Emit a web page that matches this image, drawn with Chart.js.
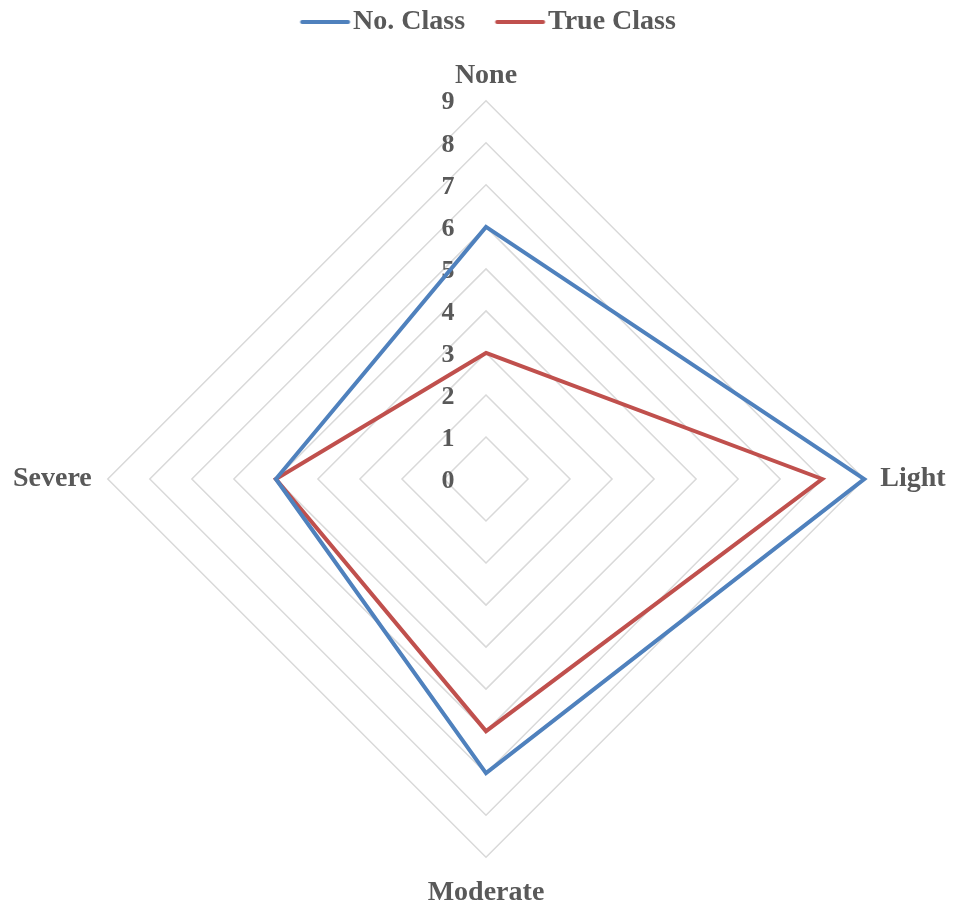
<!DOCTYPE html>
<html>
<head>
<meta charset="utf-8">
<script src="https://cdn.jsdelivr.net/npm/chart.js@4/dist/chart.umd.min.js"></script>
<style>
  html, body { margin: 0; padding: 0; background: #ffffff; overflow: hidden; }
  #wrap { width: 953px; height: 925px; }
</style>
</head>
<body>
<div id="wrap"><canvas id="radarChart"></canvas></div>
<script>
// categories around the radar, clockwise from the top
const categories = ["None", "Light", "Moderate", "Severe"];
const noClassValues = [6, 9, 7, 5];
const trueClassValues = [3, 8, 6, 5];
const tickValues = [0, 1, 2, 3, 4, 5, 6, 7, 8, 9];

const textColor = "#595959";
const serif = "'Liberation Serif', 'Times New Roman', serif";
// gap between each category label and the outer ring (top, right, bottom, left)
const labelGaps = [8, 16, 19, 16];

// legend swatch: a short line pushed to the right so it sits close to its text
function lineSwatch(color) {
  const c = document.createElement("canvas");
  c.width = 80;
  c.height = 8;
  const g = c.getContext("2d");
  g.strokeStyle = color;
  g.lineWidth = 4;
  g.lineCap = "round";
  g.beginPath();
  g.moveTo(30.5, 4);
  g.lineTo(76.5, 4);
  g.stroke();
  return c;
}

// tick numbers sit a little to the left of the vertical axis
const leftTicks = {
  id: "leftTicks",
  beforeDatasetsDraw(chart) {
    const scale = chart.scales.r;
    const ctx = chart.ctx;
    ctx.save();
    ctx.font = "bold 26px " + serif;
    ctx.fillStyle = textColor;
    ctx.textAlign = "center";
    ctx.textBaseline = "middle";
    tickValues.forEach(function (v) {
      const y = scale.yCenter - scale.getDistanceFromCenterForValue(v);
      ctx.fillText(String(v), scale.xCenter - 38, y + 2);
    });
    ctx.restore();
  }
};

let ctx = document.getElementById("radarChart").getContext("2d");
let radarChart = new Chart(ctx, {
  type: "radar",
  data: {
    labels: categories,
    datasets: [
      {
        label: "No. Class",
        data: noClassValues,
        borderColor: "#4f81bd",
        backgroundColor: "rgba(0,0,0,0)",
        borderWidth: 4,
        borderJoinStyle: "miter",
        pointStyle: lineSwatch("#4f81bd"),
        pointRadius: 0,
        pointHoverRadius: 0,
        fill: false,
      },
      {
        label: "True Class",
        data: trueClassValues,
        borderColor: "#c0504d",
        backgroundColor: "rgba(0,0,0,0)",
        borderWidth: 4,
        borderJoinStyle: "miter",
        pointStyle: lineSwatch("#c0504d"),
        pointRadius: 0,
        pointHoverRadius: 0,
        fill: false,
      },
    ],
  },
  options: {
    responsive: true,
    maintainAspectRatio: false,
    animation: false,
    layout: { padding: { top: -6, bottom: 0, left: 7, right: 0 } },
    plugins: {
      tooltip: { enabled: false },
      legend: {
        position: "top",
        labels: {
          usePointStyle: true,
          pointStyleWidth: 55,
          padding: 14,
          color: textColor,
          font: { family: serif, size: 28, weight: "bold" },
        },
      },
    },
    scales: {
      r: {
        min: 0,
        max: 9,
        beginAtZero: true,
        ticks: { stepSize: 1, display: false },
        grid: { color: "#d9d9d9", lineWidth: 1.5 },
        angleLines: { display: false },
        pointLabels: {
          color: textColor,
          padding: (c) => labelGaps[c.index],
          font: { family: serif, size: 28, weight: "bold" },
        },
      },
    },
  },
  plugins: [leftTicks],
});
</script>
</body>
</html>
